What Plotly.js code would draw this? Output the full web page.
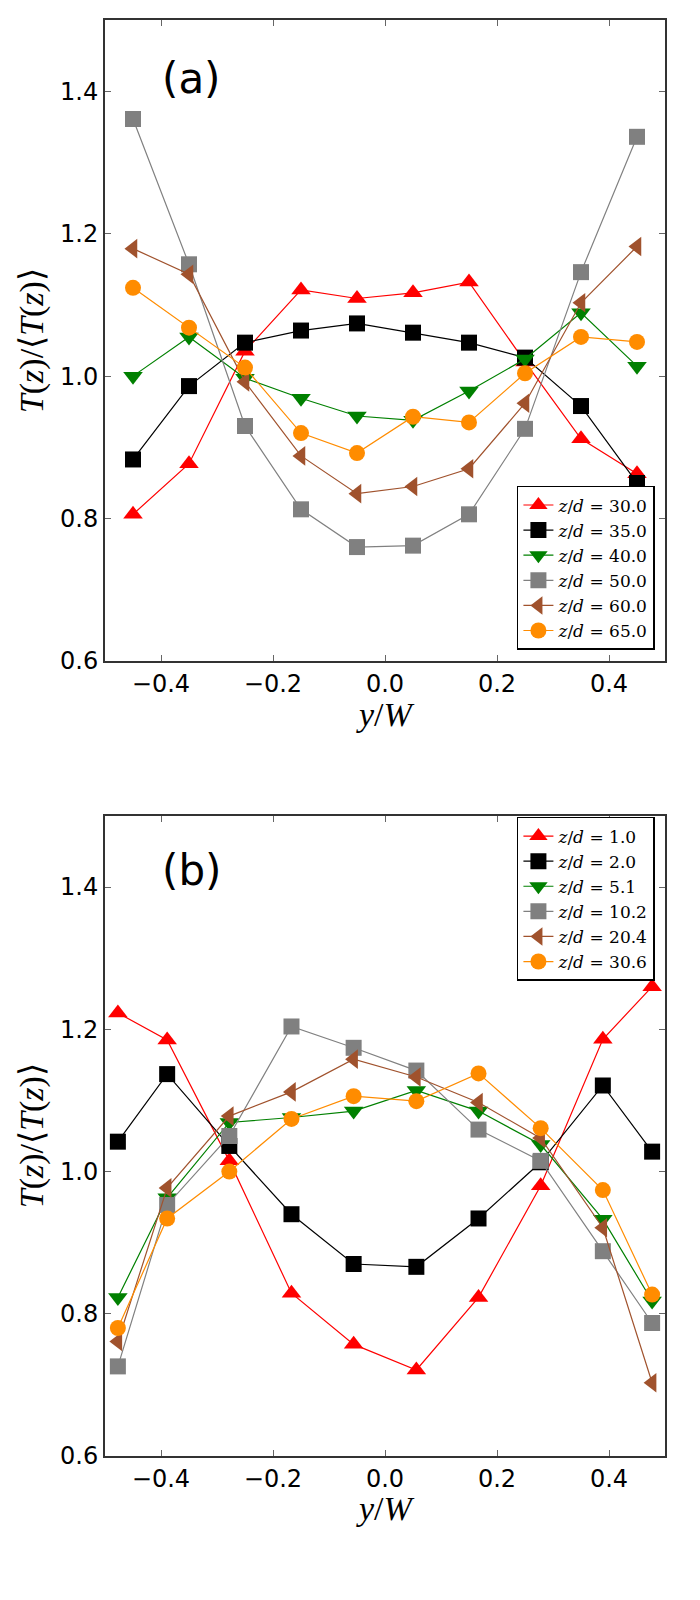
<!DOCTYPE html>
<html>
<head>
<meta charset="utf-8">
<script src="https://cdn.plot.ly/plotly-3.0.1.min.js"></script>
<style>
  body { margin: 0; background: #fff; }
  #plot { width: 700px; height: 1600px; }
</style>
</head>
<body>
<div id="plot"></div>
<script>
/* Normalised temperature profiles T(z)/<T(z)> across the channel, two panels */

// panel (a) positions and series
let xA = [-0.45, -0.35, -0.25, -0.15, -0.05, 0.05, 0.15, 0.25, 0.35, 0.45];
let a30 = [0.806, 0.877, 1.035, 1.121, 1.109, 1.117, 1.132, 1.020, 0.912, 0.863];
let a35 = [0.883, 0.986, 1.047, 1.064, 1.074, 1.061, 1.047, 1.026, 0.958, 0.850];
let a40 = [1.000, 1.055, 0.997, 0.969, 0.944, 0.938, 0.979, 1.024, 1.089, 1.014];
let a50 = [1.361, 1.157, 0.930, 0.813, 0.760, 0.762, 0.806, 0.926, 1.146, 1.336];
let a60 = [1.179, 1.143, 0.992, 0.888, 0.835, 0.845, 0.870, 0.962, 1.103, 1.182];
let a65 = [1.124, 1.068, 1.012, 0.920, 0.892, 0.943, 0.935, 1.004, 1.055, 1.048];
let labelsA = ['30.0', '35.0', '40.0', '50.0', '60.0', '65.0'];

// panel (b) positions and series
let xB = [-0.477, -0.389, -0.278, -0.167, -0.056, 0.056, 0.167, 0.278, 0.389, 0.477];
let b1 = [1.223, 1.185, 1.015, 0.829, 0.757, 0.721, 0.823, 0.980, 1.186, 1.260];
let b2 = [1.042, 1.137, 1.036, 0.940, 0.870, 0.866, 0.934, 1.013, 1.121, 1.028];
let b5 = [0.823, 0.963, 1.069, 1.076, 1.085, 1.114, 1.085, 1.038, 0.933, 0.818];
let b10 = [0.726, 0.953, 1.050, 1.204, 1.174, 1.142, 1.059, 1.015, 0.888, 0.787];
let b20 = [0.761, 0.977, 1.078, 1.112, 1.158, 1.133, 1.097, 1.047, 0.921, 0.703];
let b30 = [0.780, 0.934, 1.000, 1.074, 1.106, 1.099, 1.138, 1.061, 0.974, 0.827];
let labelsB = ['1.0', '2.0', '5.1', '10.2', '20.4', '30.6'];

let xTicks = [-0.4, -0.2, 0.0, 0.2, 0.4];
let yTicks = [0.6, 0.8, 1.0, 1.2, 1.4];

let colors = ['#ff0000', '#000000', '#008000', '#808080', '#a0522d', '#ff8c00'];
let symbols = ['triangle-up', 'square', 'triangle-down', 'square', 'triangle-left', 'circle'];
let sizes = [17, 16, 17, 16, 17, 16];

let tickFont = { family: 'DejaVu Sans', size: 24, color: '#000' };
let mathFont = { family: 'Liberation Serif', size: 34, color: '#000' };

function makeTrace(x, y, i, label, xaxis, yaxis, legend) {
  return {
    x: x,
    y: y,
    xaxis: xaxis,
    yaxis: yaxis,
    legend: legend,
    mode: 'lines+markers',
    name: '<i>z</i>/<i>d</i> = ' + label,
    line: { color: colors[i], width: 1.2 },
    marker: { color: colors[i], symbol: symbols[i], size: sizes[i], line: { width: 0 } },
    cliponaxis: false
  };
}

let seriesA = [a30, a35, a40, a50, a60, a65];
let seriesB = [b1, b2, b5, b10, b20, b30];
let data = [];
seriesA.forEach((s, i) => data.push(makeTrace(xA, s, i, labelsA[i], 'x', 'y', 'legend')));
seriesB.forEach((s, i) => data.push(makeTrace(xB, s, i, labelsB[i], 'x2', 'y2', 'legend2')));

function xAxis(anchor) {
  return {
    anchor: anchor,
    range: [-0.5, 0.5],
    tickvals: xTicks,
    tickformat: '.1f',
    ticks: 'inside',
    ticklen: 6,
    tickwidth: 1,
    tickcolor: '#666',
    mirror: 'ticks',
    showline: true,
    linecolor: '#333',
    linewidth: 2,
    showgrid: false,
    zeroline: false,
    tickfont: tickFont
  };
}

function yAxis(anchor, domain) {
  return {
    anchor: anchor,
    domain: domain,
    range: [0.6, 1.5],
    tickvals: yTicks,
    tickformat: '.1f',
    ticks: 'inside',
    ticklen: 6,
    tickwidth: 1,
    tickcolor: '#666',
    mirror: 'ticks',
    showline: true,
    linecolor: '#333',
    linewidth: 2,
    showgrid: false,
    zeroline: false,
    tickfont: tickFont
  };
}

let legendStyle = {
  bgcolor: '#fff',
  bordercolor: '#000',
  borderwidth: 1.5,
  font: { family: 'DejaVu Serif', size: 17, color: '#000' },
  tracegroupgap: 0,
  itemsizing: 'trace',
  xref: 'paper',
  yref: 'paper',
  x: 0.982,
  xanchor: 'right'
};

let yTitle = '<i>T</i>(<i>z</i>)/⟨<i>T</i>(<i>z</i>)⟩';

function label(text, x, y, font, angle) {
  return {
    text: text, xref: 'paper', yref: 'paper', x: x, y: y,
    xanchor: 'center', yanchor: 'middle', textangle: angle || 0,
    showarrow: false, font: font
  };
}

let panelFont = { family: 'DejaVu Sans', size: 42, color: '#000' };

let layout = {
  width: 700,
  height: 1600,
  margin: { l: 105, r: 35, t: 20, b: 144 },
  paper_bgcolor: '#fff',
  plot_bgcolor: '#fff',
  xaxis: xAxis('y'),
  yaxis: yAxis('x', [0.5536, 1]),
  xaxis2: xAxis('y2'),
  yaxis2: yAxis('x2', [0, 0.4457]),
  legend: Object.assign({}, legendStyle, { y: 0.5613, yanchor: 'bottom' }),
  legend2: Object.assign({}, legendStyle, { y: 0.445, yanchor: 'top' }),
  annotations: [
    label('(a)', 0.154, 0.959, panelFont),
    label('(b)', 0.154, 0.408, panelFont),
    label(yTitle, -0.13, 0.7765, mathFont, -90),
    label(yTitle, -0.13, 0.2228, mathFont, -90),
    label('<i>y</i>/<i>W</i>', 0.5, 0.5167, mathFont),
    label('<i>y</i>/<i>W</i>', 0.5, -0.0369, mathFont)
  ],
  showlegend: true
};

Plotly.newPlot('plot', data, layout, { staticPlot: true });
</script>
</body>
</html>
